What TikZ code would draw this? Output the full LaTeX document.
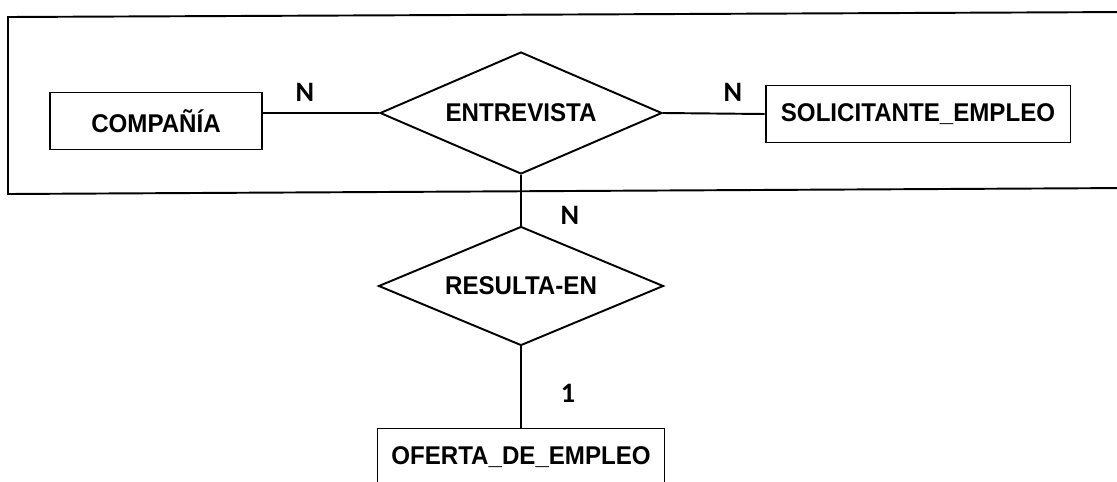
\documentclass[tikz,border=0pt]{standalone}
\usepackage{fontspec}
\setmainfont{Liberation Sans}
\newfontfamily\boxfont[FakeStretch=0.94]{Liberation Sans}
\newfontfamily\cardfont{Carlito}
\usetikzlibrary{shapes.geometric}
\begin{document}
\begin{tikzpicture}[x=0.02cm,y=-0.02cm,line width=1.1pt,
    entity/.style={draw,rectangle,inner sep=0pt,minimum height=1.14cm,
      font=\boxfont\fontsize{14.6}{16}\selectfont\bfseries},
    relation/.style={draw,diamond,inner sep=0pt,
      font=\boxfont\fontsize{14.6}{16}\selectfont\bfseries},
    card/.style={font=\fontsize{16}{18}\selectfont\cardfont\bfseries}]
    \clip (0,0) rectangle (1117,481);
    \draw (8,17) -- (1130,12) -- (1130,188) -- (8,194) -- cycle;
    \node[entity,minimum width=4.24cm] (C) at (156,121) {COMPAÑÍA};
    \node[relation,aspect=2.31,minimum width=5.64cm,minimum height=2.44cm] (E) at (521,113) {ENTREVISTA};
    \node[entity,minimum width=6.1cm] (S) at (918,114) {SOLICITANTE\_EMPLEO};
    \node[relation,aspect=2.39,minimum width=5.7cm,minimum height=2.38cm] (R) at (521,286) {RESULTA-EN};
    \node[entity,minimum width=5.74cm] (O) at (521,457) {OFERTA\_DE\_EMPLEO};
    \draw (C.east |- E.west) -- (E.west);
    \draw (E.east) -- (S.west);
    \draw (E.south) -- (R.north);
    \draw (R.south) -- (O.north);
    \node[card] (NC) at (305,92) {N};
    \node[card] (NS) at (733,92) {N};
    \node[card] (NR) at (570,215) {N};
    \node[card] (UO) at (568,393) {1};
\end{tikzpicture}
\end{document}
